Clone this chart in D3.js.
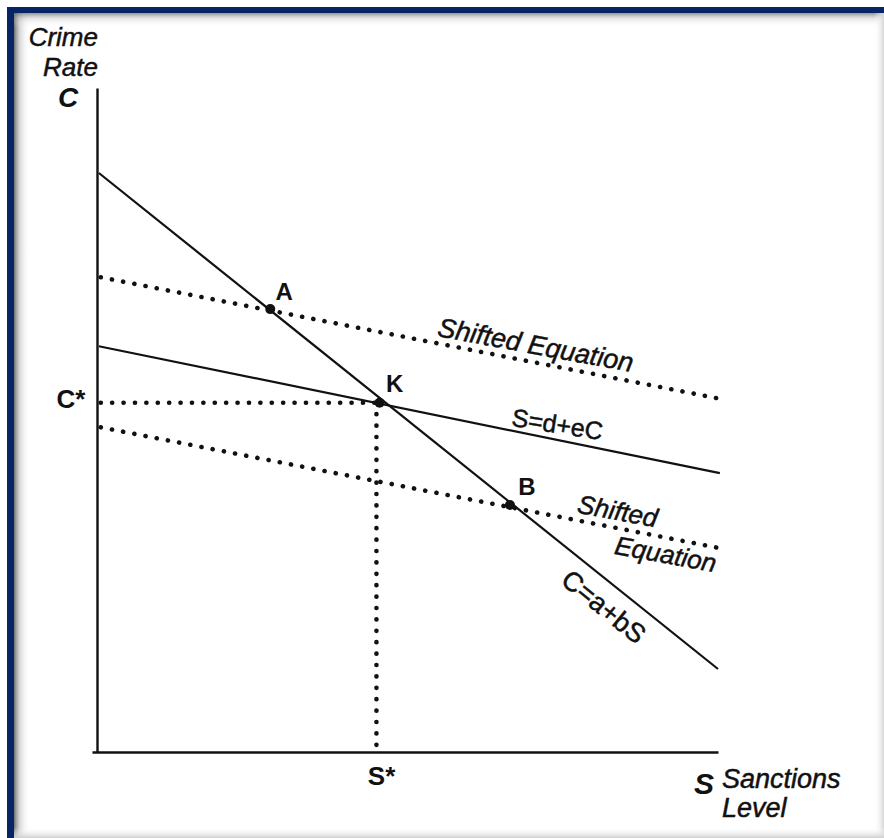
<!DOCTYPE html>
<html><head><meta charset="utf-8">
<script src="https://cdn.jsdelivr.net/npm/d3@7"></script>
<style>
html,body{margin:0;padding:0;background:#fff;overflow:hidden;}
svg{position:absolute;left:0;top:0;display:block;}
text{font-family:"Liberation Sans",Arial,sans-serif;fill:#111;}
</style></head><body>
<script>
// Data (S = sanctions level, C = crime rate), in chart units
const demandLine = [[0.03, 8.72], [10.0, 1.25]];     // C = a + bS
const supplyLine = [[0.03, 6.11], [10.03, 4.20]];    // S = d + eC
const shiftedUpper = [[0.06, 7.15], [10.03, 5.32]];
const shiftedLower = [[0.06, 4.89], [10.03, 3.07]];
const pointNames = ["A", "K", "B"];
const pointS = [2.79, 4.55, 6.65];
const pointC = [6.67, 5.26, 3.72];
const equilibrium = {S: 4.55, C: 5.26};

const W = 884, H = 838;
const svg = d3.select("body").append("svg").attr("width", W).attr("height", H);
const defs = svg.append("defs");
function grad(id, x1, y1, x2, y2, stops){
  const g = defs.append("linearGradient").attr("id", id)
    .attr("x1", x1).attr("y1", y1).attr("x2", x2).attr("y2", y2);
  stops.forEach(s => g.append("stop").attr("offset", s[0]).attr("stop-color", s[1]).attr("stop-opacity", s[2]));
}
grad("gl", 0, 0, 1, 0, [[0, "#555", 0.85], [0.35, "#999", 0.4], [1, "#fff", 0]]);
grad("gt", 0, 0, 0, 1, [[0, "#666", 0.7], [0.4, "#aaa", 0.3], [1, "#fff", 0]]);
grad("gr", 0, 0, 1, 0, [[0, "#fff", 0], [1, "#d6d6d6", 1]]);
grad("gb", 0, 0, 0, 1, [[0, "#fff", 0], [1, "#d0d0d0", 1]]);

// frame
svg.append("rect").attr("x", 14).attr("y", 13).attr("width", 16).attr("height", H - 13).attr("fill", "url(#gl)");
svg.append("rect").attr("x", 14).attr("y", 13).attr("width", W - 14).attr("height", 14).attr("fill", "url(#gt)");
svg.append("rect").attr("x", 874).attr("y", 13).attr("width", 10).attr("height", H - 13).attr("fill", "url(#gr)");
svg.append("rect").attr("x", 14).attr("y", 827).attr("width", W - 14).attr("height", 11).attr("fill", "url(#gb)");
svg.append("rect").attr("x", 7).attr("y", 7).attr("width", 7).attr("height", H - 7).attr("fill", "#072466");
svg.append("rect").attr("x", 7).attr("y", 7).attr("width", W - 7).attr("height", 6).attr("fill", "#072466");

const x = d3.scaleLinear().domain([0, 10]).range([97, 718]);
const y = d3.scaleLinear().domain([0, 10]).range([752, 88]);
const line = d3.line().x(d => x(d[0])).y(d => y(d[1]));

// axes
svg.append("g").attr("transform", `translate(${x(0)},0)`)
  .call(d3.axisLeft(y).tickValues([]).tickSizeOuter(0))
  .select(".domain").attr("stroke", "#111").attr("stroke-width", 2.4);
svg.append("g").attr("transform", `translate(0,${y(0)})`)
  .call(d3.axisBottom(x.copy().domain([-0.08, 10]).range([92, 718])).tickValues([]).tickSizeOuter(0))
  .select(".domain").attr("stroke", "#111").attr("stroke-width", 2.4);

const dotted = {stroke: "#111", "stroke-width": 4.6, "stroke-linecap": "round", "stroke-dasharray": "0.1 11.3", fill: "none"};
function applyAttrs(sel, a){ for (const k in a) sel.attr(k, a[k]); return sel; }

// guides
applyAttrs(svg.append("path").attr("d", line([[0.06, equilibrium.C], [equilibrium.S, equilibrium.C]])), dotted);
applyAttrs(svg.append("path").attr("d", line([[equilibrium.S - 0.05, equilibrium.C], [equilibrium.S - 0.05, 0]])), dotted);

// shifted equations
applyAttrs(svg.append("path").attr("d", line(shiftedUpper)), dotted);
applyAttrs(svg.append("path").attr("d", line(shiftedLower)), dotted);

// solid lines
svg.append("path").attr("d", line(demandLine)).attr("stroke", "#111").attr("stroke-width", 2.2).attr("fill", "none");
svg.append("path").attr("d", line(supplyLine)).attr("stroke", "#111").attr("stroke-width", 2.2).attr("fill", "none");

// points
const labelOff = [[14, -9], [15, -11], [17, -10]];
pointNames.forEach((n, i) => {
  svg.append("circle").attr("cx", x(pointS[i])).attr("cy", y(pointC[i])).attr("r", 5).attr("fill", "#111");
  svg.append("text").attr("x", x(pointS[i]) + labelOff[i][0]).attr("y", y(pointC[i]) + labelOff[i][1])
    .attr("font-size", 24).attr("font-weight", "bold").attr("text-anchor", "middle").text(n);
});

function txt(px, py, s, opts){
  const t = svg.append("text").attr("x", px).attr("y", py).text(s)
    .attr("font-size", opts.fs).attr("text-anchor", opts.anchor || "start");
  if (opts.italic) t.attr("font-style", "italic");
  if (opts.bold) t.attr("font-weight", "bold");
  else t.attr("stroke", "#111").attr("stroke-width", 0.5);
  if (opts.rot !== undefined) t.attr("transform", `rotate(${opts.rot},${px},${py})`);
  return t;
}

// axis titles
txt(98, 46, "Crime", {fs: 26, italic: true, anchor: "end"});
txt(98, 76, "Rate", {fs: 26, italic: true, anchor: "end"});
txt(68, 107, "C", {fs: 28, italic: true, bold: true, anchor: "middle"});
txt(704, 794, "S", {fs: 30, italic: true, bold: true, anchor: "middle"});
txt(722, 788, "Sanctions", {fs: 27, italic: true});
txt(722, 817, "Level", {fs: 27, italic: true});
txt(71, y(equilibrium.C) + 5, "C*", {fs: 26, bold: true, anchor: "middle"});
txt(x(equilibrium.S) + 2, 785, "S*", {fs: 26, bold: true, anchor: "middle"});

// line labels
txt(534, 354, "Shifted Equation", {fs: 27, italic: true, anchor: "middle", rot: 10.5});
txt(556, 433, "S=d+eC", {fs: 25, anchor: "middle", rot: 9});
txt(616, 520, "Shifted", {fs: 26, italic: true, anchor: "middle", rot: 10.5});
txt(664, 563, "Equation", {fs: 26, italic: true, anchor: "middle", rot: 10.5});
txt(598, 614, "C=a+bS", {fs: 27, anchor: "middle", rot: 39});
</script>
</body></html>
